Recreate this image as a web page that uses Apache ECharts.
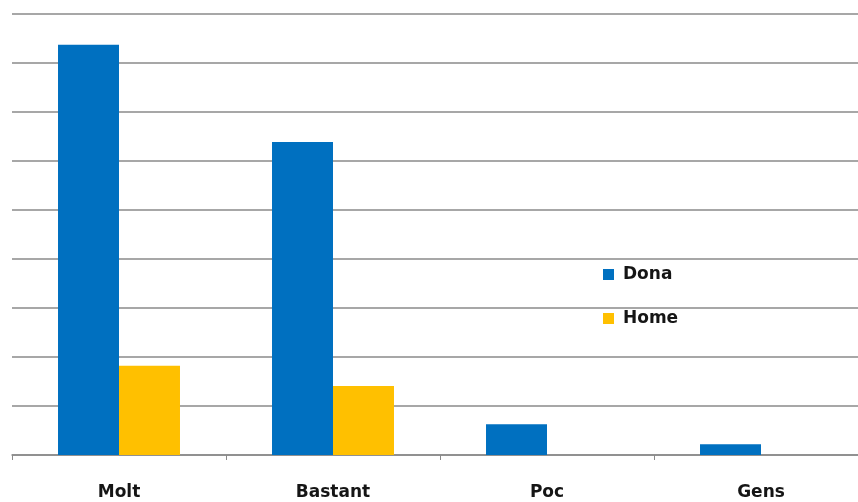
<!DOCTYPE html>
<html>
<head>
<meta charset="utf-8">
<script src="https://cdn.jsdelivr.net/npm/echarts@6/dist/echarts.min.js"></script>
<style>
  html, body { margin: 0; padding: 0; background: #ffffff; }
  #chart { width: 858px; height: 502px; }
</style>
</head>
<body>
<div id="chart"></div>
<script>
// Answers per category, split by gender
const categories = ['Molt', 'Bastant', 'Poc', 'Gens'];
const donaValues = [83.7, 63.9, 6.3, 2.2];
const homeValues = [18.2, 14.1, 0, 0];
const seriesNames = ['Dona', 'Home'];

const chart = echarts.init(document.getElementById('chart'));

const textFont = { fontFamily: 'DejaVu Sans', fontWeight: 'bold', fontSize: 17, color: '#151515' };

chart.setOption({
  animation: false,
  backgroundColor: '#ffffff',
  // the plot runs a little past the right edge of the canvas
  grid: { left: 12, width: 856, top: 14, bottom: 47, outerBoundsMode: 'none' },
  legend: {
    data: seriesNames,
    orient: 'vertical',
    left: 603,
    top: 266,
    padding: 0,
    itemWidth: 11,
    itemHeight: 11,
    itemGap: 27,
    icon: 'rect',
    textStyle: Object.assign({}, textFont, { padding: [0, 0, 0, 4] })
  },
  xAxis: {
    type: 'category',
    data: categories,
    axisLine: { lineStyle: { color: '#8a8a8a', width: 1.5 } },
    axisTick: { show: true, length: 5, lineStyle: { color: '#8a8a8a' } },
    axisLabel: Object.assign({ margin: 29 }, textFont)
  },
  yAxis: {
    type: 'value',
    min: 0,
    max: 90,
    interval: 10,
    axisLabel: { show: false },
    axisLine: { show: false },
    axisTick: { show: false },
    splitLine: { lineStyle: { color: '#8a8a8a', width: 1.5 } }
  },
  series: [
    {
      name: seriesNames[0],
      type: 'bar',
      data: donaValues,
      barGap: '0%',
      barCategoryGap: '43%',
      itemStyle: { color: '#0070C0' }
    },
    {
      name: seriesNames[1],
      type: 'bar',
      data: homeValues,
      itemStyle: { color: '#FFC000' }
    }
  ]
});
</script>
</body>
</html>
